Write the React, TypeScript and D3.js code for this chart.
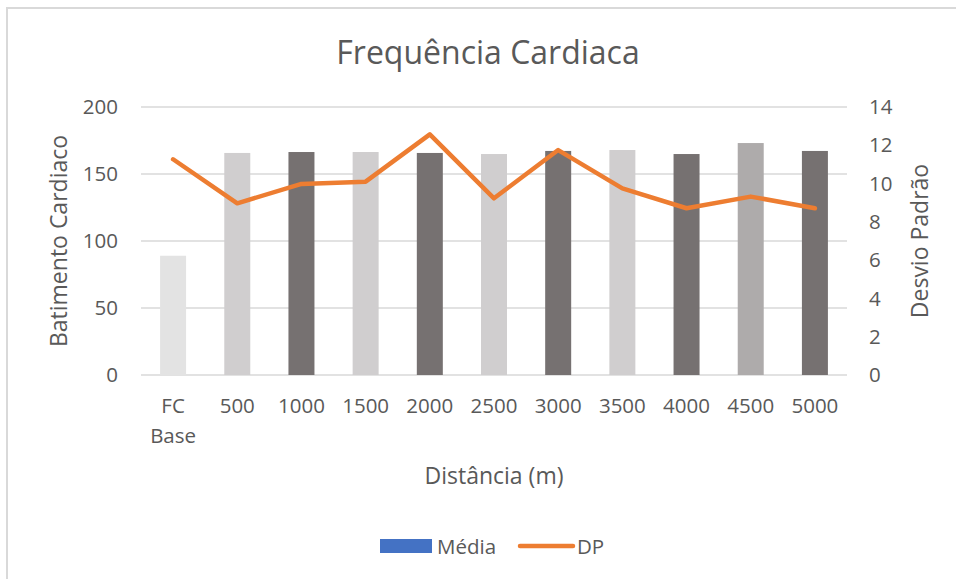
import React from "react";
import * as d3 from "d3";

const categories = ["FC Base", "500", "1000", "1500", "2000", "2500", "3000", "3500", "4000", "4500", "5000"];
const media = [89, 165.7, 166.4, 166.4, 165.7, 164.9, 167.2, 167.9, 164.9, 173.1, 167.2];
const dp = [11.27, 8.97, 9.98, 10.1, 12.57, 9.23, 11.75, 9.75, 8.71, 9.32, 8.71];
const barColors = ["#e3e3e3", "#d0cecf", "#767171", "#d0cecf", "#767171", "#d0cecf", "#767171", "#d0cecf", "#767171", "#aeabab", "#767171"];
const leftTicks = [0, 50, 100, 150, 200];
const rightTicks = [0, 2, 4, 6, 8, 10, 12, 14];

const W = 956, H = 579;
const plot = { left: 141, right: 847, top: 107, bottom: 375 };
const font = "'Open Sans', 'Noto Sans', sans-serif";
const textColor = "#595959";

export default function App() {
  const x = d3.scaleBand<string>().domain(categories).range([plot.left, plot.right]).paddingInner(0.595).paddingOuter(0.2975);
  const yL = d3.scaleLinear().domain([0, 200]).range([plot.bottom, plot.top]);
  const yR = d3.scaleLinear().domain([0, 14]).range([plot.bottom, plot.top]);
  const line = d3.line<number>()
    .x((_, i) => (x(categories[i]) as number) + x.bandwidth() / 2)
    .y((d) => yR(d));

  return (
    <svg width={W} height={H} style={{ position: "absolute", left: 0, top: 0, background: "#fff" }} fontFamily={font}>
      <rect x={7} y={8} width={W + 20} height={H + 20} fill="#fff" stroke="#d9d9d9" strokeWidth={2} />
      <text x={488} y={64} textAnchor="middle" fontSize={32} fill={textColor}>Frequência Cardiaca</text>
      {leftTicks.map((t) => (
        <g key={"g" + t}>
          <line x1={plot.left} x2={plot.right} y1={yL(t)} y2={yL(t)} stroke="#d9d9d9" strokeWidth={1.5} />
          <text x={118} y={yL(t)} dy="0.35em" textAnchor="end" fontSize={20.5} fill={textColor}>{t}</text>
        </g>
      ))}
      {rightTicks.map((t) => (
        <text key={"r" + t} x={869} y={yR(t)} dy="0.35em" textAnchor="start" fontSize={20.5} fill={textColor}>{t}</text>
      ))}
      {media.map((v, i) => (
        <rect key={"b" + i} x={x(categories[i])} y={yL(v)} width={x.bandwidth()} height={yL(0) - yL(v)} fill={barColors[i]} />
      ))}
      <path d={line(dp) || ""} fill="none" stroke="#ED7D31" strokeWidth={4.5} strokeLinejoin="round" strokeLinecap="round" />
      {categories.map((c, i) => {
        const parts = c.split(" ");
        const cx = (x(c) as number) + x.bandwidth() / 2;
        return (
          <text key={"x" + i} x={cx} y={413} textAnchor="middle" fontSize={20.5} fill={textColor}>
            {parts.map((p, j) => (
              <tspan key={j} x={cx} dy={j === 0 ? 0 : 30}>{p}</tspan>
            ))}
          </text>
        );
      })}
      <text transform="translate(67,241) rotate(-90)" textAnchor="middle" fontSize={23} fill={textColor}>Batimento Cardiaco</text>
      <text transform="translate(928,241) rotate(-90)" textAnchor="middle" fontSize={23} fill={textColor}>Desvio Padrão</text>
      <text x={494} y={484} textAnchor="middle" fontSize={23} fill={textColor}>Distância (m)</text>
      <rect x={380} y={539} width={52} height={14} fill="#4472C4" />
      <text x={437} y={554} fontSize={20.5} fill={textColor}>Média</text>
      <line x1={520} x2={573} y1={546} y2={546} stroke="#ED7D31" strokeWidth={4.5} strokeLinecap="round" />
      <text x={577} y={554} fontSize={20.5} fill={textColor}>DP</text>
    </svg>
  );
}
